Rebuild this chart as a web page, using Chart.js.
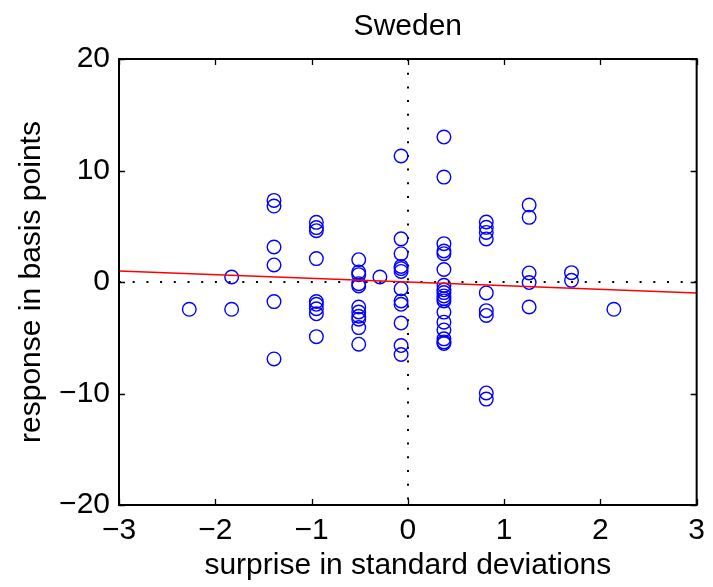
<!DOCTYPE html>
<html>
<head>
<meta charset="utf-8">
<script src="https://cdn.jsdelivr.net/npm/chart.js@4"></script>
<style>
  html, body { margin: 0; padding: 0; background: #fff; }
  #wrap { width: 713px; height: 587px; }
</style>
</head>
<body>
<div id="wrap"><canvas id="myChart" width="713" height="587"></canvas></div>
<script>
// surprise (std devs) and response (basis points), one entry per event
const surpriseX = [
    -2.27,
    -1.83, -1.83,
    -1.39, -1.39, -1.39, -1.39, -1.39, -1.39,
    -0.95, -0.95, -0.95, -0.95, -0.95, -0.95, -0.95, -0.95, -0.95,
    -0.51, -0.51, -0.51, -0.51, -0.51, -0.51, -0.51, -0.51, -0.51, -0.51, -0.51,
    -0.29,
    -0.07, -0.07, -0.07, -0.07, -0.07, -0.07, -0.07, -0.07, -0.07, -0.07, -0.07, -0.07,
    0.375, 0.375, 0.375, 0.375, 0.375, 0.375, 0.375, 0.375, 0.375,
    0.375, 0.375, 0.375, 0.375, 0.375, 0.375, 0.375, 0.375, 0.375,
    0.815, 0.815, 0.815, 0.815, 0.815, 0.815, 0.815, 0.815, 0.815,
    1.26, 1.26, 1.26, 1.26, 1.26,
    1.70, 1.70,
    2.14
];
const responseY = [
    -2.45,
    0.45, -2.45,
    7.32, 6.81, 3.14, 1.53, -1.76, -6.9,
    5.35, 4.88, 4.6, 2.1, -1.75, -2.0, -2.4, -2.85, -4.9,
    2.0, 0.9, 0.66, -0.15, -0.36, -2.24, -2.69, -3.07, -3.34, -4.09, -5.58,
    0.45,
    11.3, 3.87, 2.54, 1.4, 1.2, 0.95, -0.6, -1.7, -2.0, -3.68, -5.7, -6.5,
    13.0, 9.41, 3.44, 2.78, 2.54, 1.12, -0.3, -0.7, -0.95,
    -1.25, -1.5, -1.7, -2.7, -3.6, -4.3, -5.1, -5.37, -5.52,
    5.38, 4.9, 4.45, 3.86, -0.98, -2.57, -3.0, -9.95, -10.5,
    6.9, 5.8, 0.81, -0.05, -2.24,
    0.84, 0.15,
    -2.45
];

// fitted regression line
const fitX = [-3, 3];
const fitY = [0.98, -0.98];

const xTicks = [-3, -2, -1, 0, 1, 2, 3];
const yTicks = [-20, -10, 0, 10, 20];

const chartTitle = 'Sweden';
const FONT = 'Liberation Sans, Arial, Helvetica, sans-serif';

function minus(v) {
    return String(v).replace('-', '\u2212');
}

// matlab style box, inward ticks, dotted zero lines and the title
const boxPlugin = {
    id: 'box',
    beforeDatasetsDraw: function (chart) {
        const ctx = chart.ctx;
        const a = chart.chartArea;
        const x0 = chart.scales.x.getPixelForValue(0);
        const y0 = chart.scales.y.getPixelForValue(0);
        ctx.save();
        ctx.strokeStyle = '#000';
        ctx.lineWidth = 2;
        ctx.setLineDash([2, 11.7]);
        ctx.beginPath();
        ctx.moveTo(a.left, Math.round(y0));
        ctx.lineTo(a.right, Math.round(y0));
        ctx.moveTo(Math.round(x0), a.top);
        ctx.lineTo(Math.round(x0), a.bottom);
        ctx.stroke();
        ctx.restore();
    },
    afterDraw: function (chart) {
        const ctx = chart.ctx;
        const a = chart.chartArea;
        const xs = chart.scales.x;
        const ys = chart.scales.y;
        const tl = 6;
        ctx.save();
        ctx.strokeStyle = '#000';
        ctx.lineWidth = 1.3;
        ctx.beginPath();
        xTicks.forEach(function (v) {
            const px = Math.round(xs.getPixelForValue(v)) + 0.5;
            ctx.moveTo(px, a.bottom);
            ctx.lineTo(px, a.bottom - tl);
            ctx.moveTo(px, a.top);
            ctx.lineTo(px, a.top + tl);
        });
        yTicks.forEach(function (v) {
            const py = Math.round(ys.getPixelForValue(v)) + 0.5;
            ctx.moveTo(a.left, py);
            ctx.lineTo(a.left + tl, py);
            ctx.moveTo(a.right, py);
            ctx.lineTo(a.right - tl, py);
        });
        ctx.stroke();
        ctx.lineWidth = 2;
        ctx.strokeRect(a.left, a.top, a.right - a.left, a.bottom - a.top);

        ctx.fillStyle = '#000';
        ctx.font = '30px ' + FONT;
        ctx.textAlign = 'center';
        ctx.textBaseline = 'alphabetic';
        ctx.fillText(chartTitle, (a.left + a.right) / 2, 35);
        ctx.restore();
    }
};

document.addEventListener('DOMContentLoaded', function () {
    const ctx = document.getElementById('myChart').getContext('2d');

    new Chart(ctx, {
        type: 'scatter',
        data: {
            datasets: [{
                label: 'fit',
                type: 'line',
                data: fitX.map(function (x, i) { return { x: x, y: fitY[i] }; }),
                borderColor: '#FF0000',
                borderWidth: 1.6,
                pointRadius: 0,
                fill: false,
                order: 0
            }, {
                label: chartTitle,
                data: surpriseX.map(function (x, i) { return { x: x, y: responseY[i] }; }),
                pointStyle: 'circle',
                pointRadius: 6.8,
                pointBorderWidth: 1.4,
                borderColor: '#0000FF',
                backgroundColor: 'rgba(0,0,0,0)',
                order: 1
            }]
        },
        options: {
            responsive: false,
            animation: false,
            events: [],
            layout: {
                padding: { top: 59, right: 12, left: 0, bottom: 0 }
            },
            scales: {
                x: {
                    type: 'linear',
                    min: -3,
                    max: 3,
                    afterFit: function (scale) { scale.height = 82; },
                    afterBuildTicks: function (scale) {
                        scale.ticks = xTicks.map(function (v) { return { value: v }; });
                    },
                    grid: { display: false, drawTicks: false },
                    border: { display: false },
                    ticks: {
                        color: '#000',
                        padding: 8,
                        maxRotation: 0,
                        font: { family: FONT, size: 30 },
                        callback: function (v) { return minus(v); }
                    },
                    title: {
                        display: true,
                        text: 'surprise in standard deviations',
                        color: '#000',
                        font: { family: FONT, size: 30 },
                        padding: { top: 0, bottom: 3 }
                    }
                },
                y: {
                    type: 'linear',
                    min: -20,
                    max: 20,
                    afterFit: function (scale) { scale.width = 119; },
                    afterBuildTicks: function (scale) {
                        scale.ticks = yTicks.map(function (v) { return { value: v }; });
                    },
                    grid: { display: false, drawTicks: false },
                    border: { display: false },
                    ticks: {
                        color: '#000',
                        padding: 9,
                        font: { family: FONT, size: 30 },
                        callback: function (v) { return minus(v); }
                    },
                    title: {
                        display: true,
                        text: 'response in basis points',
                        color: '#000',
                        font: { family: FONT, size: 30 },
                        padding: { top: 14, bottom: 0 }
                    }
                }
            },
            plugins: {
                legend: { display: false },
                tooltip: { enabled: false },
                title: { display: false }
            }
        },
        plugins: [boxPlugin]
    });
});
</script>
</body>
</html>
